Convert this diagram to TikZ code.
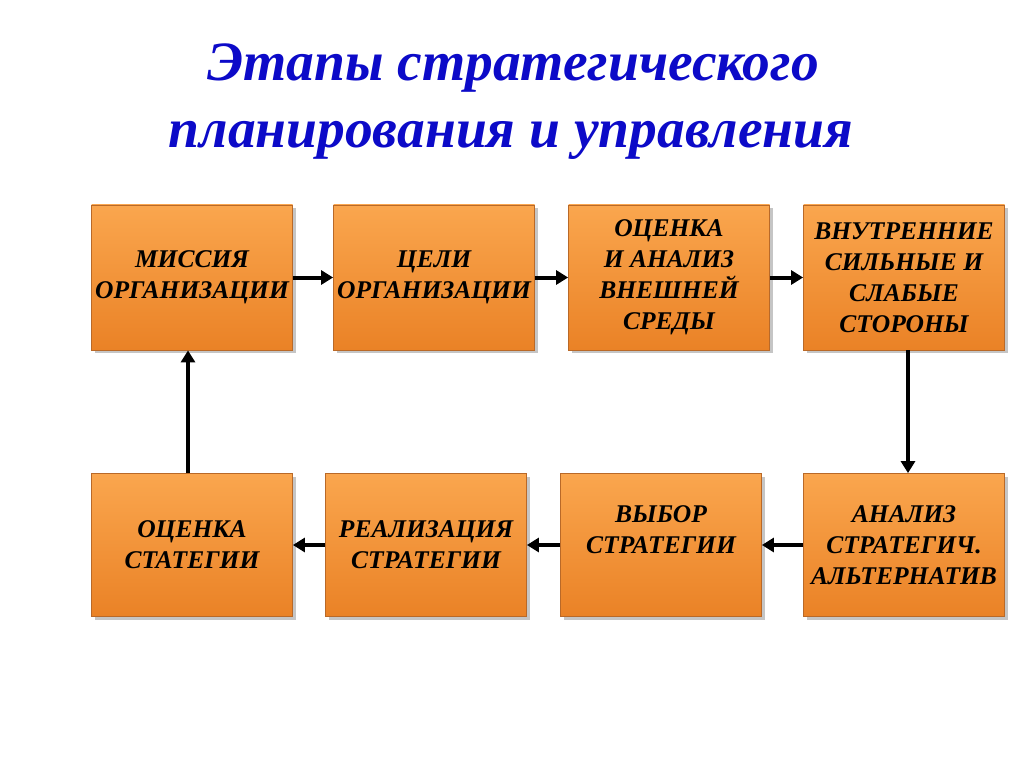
\documentclass[tikz,border=0pt]{standalone}
\usepackage{fontspec}
\setmainfont{Liberation Serif}
\usetikzlibrary{shadows,arrows.meta}
\definecolor{titleblue}{RGB}{12,10,200}
\definecolor{boxtop}{RGB}{250,166,78}
\definecolor{boxbot}{RGB}{234,130,38}
\definecolor{boxline}{RGB}{185,105,40}
\tikzset{
  stagebox/.style={rectangle, inner sep=0pt, minimum width=201pt, minimum height=145pt,
    top color=boxtop, bottom color=boxbot, draw=boxline, line width=0.8pt,
    drop shadow={opacity=0.45, shadow xshift=3pt, shadow yshift=-3pt},
    align=center, font=\bfseries\itshape\fontsize{25.5}{31}\selectfont, text=black},
  lowbox/.style={stagebox, minimum height=143pt},
  titletext/.style={font=\bfseries\itshape\fontsize{55.5}{60}\selectfont, text=titleblue, anchor=base, inner sep=0pt},
  flow/.style={line width=4pt, -{Triangle[length=12pt,width=14pt]}, black}
}
\begin{document}
\begin{tikzpicture}[x=1pt,y=1pt]
\useasboundingbox (0,0) rectangle (1024,-767);
\fill[white] (0,0) rectangle (1024,-767);
\node (title1) [titletext] at (513,-81) {Этапы стратегического};
\node (title2) [titletext] at (511,-148) {планирования и управления};
\node (b1) [stagebox] at (192,-277.5) {МИССИЯ\\ОРГАНИЗАЦИИ};
\node (b2) [stagebox] at (434,-277.5) {ЦЕЛИ\\ОРГАНИЗАЦИИ};
\node (b3) [stagebox] at (669,-277.5) {ОЦЕНКА\\И АНАЛИЗ\\ВНЕШНЕЙ\\СРЕДЫ};
\node (b4) [stagebox] at (904,-277.5) {ВНУТРЕННИЕ\\СИЛЬНЫЕ И\\СЛАБЫЕ\\СТОРОНЫ};
\node (b8) [lowbox] at (904,-545) {АНАЛИЗ\\СТРАТЕГИЧ.\\АЛЬТЕРНАТИВ};
\node (b7) [lowbox] at (661,-545) {ВЫБОР\\СТРАТЕГИИ\\\mbox{}};
\node (b6) [lowbox] at (426,-545) {РЕАЛИЗАЦИЯ\\СТРАТЕГИИ};
\node (b5) [lowbox] at (192,-545) {ОЦЕНКА\\СТАТЕГИИ};
\draw[flow] (b1) -- (b2);
\draw[flow] (b2) -- (b3);
\draw[flow] (b3) -- (b4);
\draw[flow] ([xshift=4pt]b4.south) -- ([xshift=4pt]b8.north);
\draw[flow] (b8) -- (b7);
\draw[flow] (b7) -- (b6);
\draw[flow] (b6) -- (b5);
\draw[flow] ([xshift=-4pt]b5.north) -- ([xshift=-4pt]b1.south);
\end{tikzpicture}
\end{document}
